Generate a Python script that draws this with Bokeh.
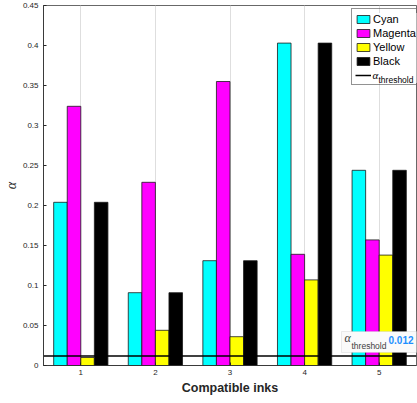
import numpy as np
from bokeh.plotting import figure
from bokeh.models import (ColumnDataSource, FixedTicker, Legend, LegendItem, Label,
                          BoxAnnotation, Range1d, NumeralTickFormatter)
from bokeh.transform import dodge
from bokeh.embed import file_html
from bokeh.resources import INLINE

# ---------------- data ----------------
inks = [1, 2, 3, 4, 5]
x_tick_labels = ["1", "2", "3", "4", "5"]
cyan = [0.204, 0.091, 0.131, 0.403, 0.244]
magenta = [0.324, 0.229, 0.355, 0.139, 0.157]
yellow = [0.010, 0.044, 0.036, 0.107, 0.138]
black = [0.204, 0.091, 0.131, 0.403, 0.244]
threshold = 0.012
series_names = ["Cyan", "Magenta", "Yellow", "Black"]
series_colors = ["#00FFFF", "#FF00FF", "#FFFF00", "#000000"]
y_ticks = [0, 0.05, 0.1, 0.15, 0.2, 0.25, 0.3, 0.35, 0.4, 0.45]
y_tick_labels = ["0", "0.05", "0.1", "0.15", "0.2", "0.25", "0.3", "0.35", "0.4", "0.45"]
x_label = "Compatible inks"
y_label = "\u03b1"

source = ColumnDataSource(data=dict(x=inks, Cyan=cyan, Magenta=magenta, Yellow=yellow, Black=black))

FONT = "Liberation Sans"
SERIF = "Liberation Serif"
AX = "#262626"

p = figure(width=417, height=403,
           x_range=Range1d(0.5, 5.5), y_range=Range1d(0, 0.45),
           output_backend="svg", toolbar_location=None,
           min_border_left=41, min_border_right=1, min_border_top=5, min_border_bottom=38)
p.background_fill_color = "white"
p.border_fill_color = "white"
p.outline_line_color = AX
p.outline_line_width = 0.7

# bars
n = len(series_names)
group_w = n / (n + 1.5)
bar_w = group_w / n
renderers = []
for i, (name, col) in enumerate(zip(series_names, series_colors)):
    off = -group_w / 2 + (2 * i + 1) * group_w / (2 * n)
    r = p.vbar(x=dodge("x", off), top=name, width=bar_w, source=source,
               fill_color=col, line_color="#1a1a1a", line_width=0.8)
    renderers.append(r)

# threshold line across the category extent
thr_x = [inks[0] - 0.5, inks[-1] + 0.5]
thr_line = p.line(x=thr_x, y=[threshold, threshold], line_color="black", line_width=1.5)

# axes
p.xaxis.ticker = FixedTicker(ticks=inks)
p.xaxis.major_label_overrides = {k: v for k, v in zip(inks, x_tick_labels)}
p.yaxis.ticker = FixedTicker(ticks=y_ticks)
p.yaxis.formatter = NumeralTickFormatter(format="0.[00]")
p.yaxis.major_label_overrides = {k: v for k, v in zip(y_ticks, y_tick_labels)}
for ax in (p.xaxis[0], p.yaxis[0]):
    ax.axis_line_color = AX
    ax.axis_line_width = 0.7
    ax.major_tick_line_color = AX
    ax.major_tick_in = 3
    ax.major_tick_out = 0
    ax.minor_tick_line_color = None
    ax.major_label_text_font = FONT
    ax.major_label_text_font_size = "8px"
    ax.major_label_text_color = AX
    ax.axis_label_text_color = AX
p.xaxis.major_label_standoff = 4
p.yaxis.major_label_standoff = 5

p.xaxis.axis_label = x_label
p.xaxis.axis_label_text_font = FONT
p.xaxis.axis_label_text_font_size = "12.5px"
p.xaxis.axis_label_text_font_style = "bold"
p.xaxis.axis_label_standoff = 3

p.yaxis.axis_label = y_label
p.yaxis.axis_label_text_font = SERIF
p.yaxis.axis_label_text_font_size = "14px"
p.yaxis.axis_label_text_font_style = "italic"
p.yaxis.axis_label_standoff = 1

p.xgrid.grid_line_color = "#dedede"
p.xgrid.grid_line_width = 1
p.ygrid.grid_line_color = None

# white backdrop behind the (transparent) legend, hides the grid line
p.add_layout(Label(x=341, y=317.5, x_units="screen", y_units="screen", text=" ",
                   text_font_size="1px", text_align="center", text_baseline="middle",
                   padding=(37, 32, 37, 32),
                   background_fill_color="white", background_fill_alpha=1,
                   border_line_color=None))

items = [LegendItem(label=nm, renderers=[r]) for nm, r in zip(series_names, renderers)]
items.append(LegendItem(label=" ", renderers=[thr_line]))
legend = Legend(items=items, location=(308, 280),
                label_text_font=FONT, label_text_font_size="11px", label_text_color="black",
                glyph_width=16, glyph_height=10, label_height=13, label_width=42,
                label_standoff=2, spacing=1, padding=3, margin=0,
                border_line_color=AX, border_line_width=0.8, background_fill_alpha=0)
p.add_layout(legend)
p.add_layout(Label(x=329, y=291, x_units="screen", y_units="screen", text="\u03b1",
                   text_font=SERIF, text_font_size="11px", text_font_style="italic",
                   text_color="black", text_align="left", text_baseline="middle"))
p.add_layout(Label(x=335, y=286, x_units="screen", y_units="screen", text="threshold",
                   text_font=FONT, text_font_size="8.5px",
                   text_color="black", text_align="left", text_baseline="middle"))

# data tip
p.add_layout(BoxAnnotation(left=298, right=390, bottom=13, top=34,
                           left_units="screen", right_units="screen",
                           bottom_units="screen", top_units="screen",
                           fill_color="#fafafa", fill_alpha=1,
                           line_color="#bfbfbf", line_width=1))
p.add_layout(Label(x=301, y=28, x_units="screen", y_units="screen", text="\u03b1",
                   text_font=SERIF, text_font_size="12px", text_font_style="italic",
                   text_color="#404040", text_align="left", text_baseline="middle"))
p.add_layout(Label(x=308, y=20, x_units="screen", y_units="screen", text="threshold",
                   text_font=FONT, text_font_size="8.5px",
                   text_color="#404040", text_align="left", text_baseline="middle"))
p.add_layout(Label(x=345, y=26, x_units="screen", y_units="screen", text=f"{threshold}",
                   text_font=FONT, text_font_size="10px", text_font_style="bold",
                   text_color="#1E90FF", text_align="left", text_baseline="middle"))

open("out.html", "w").write(file_html(p, INLINE))
